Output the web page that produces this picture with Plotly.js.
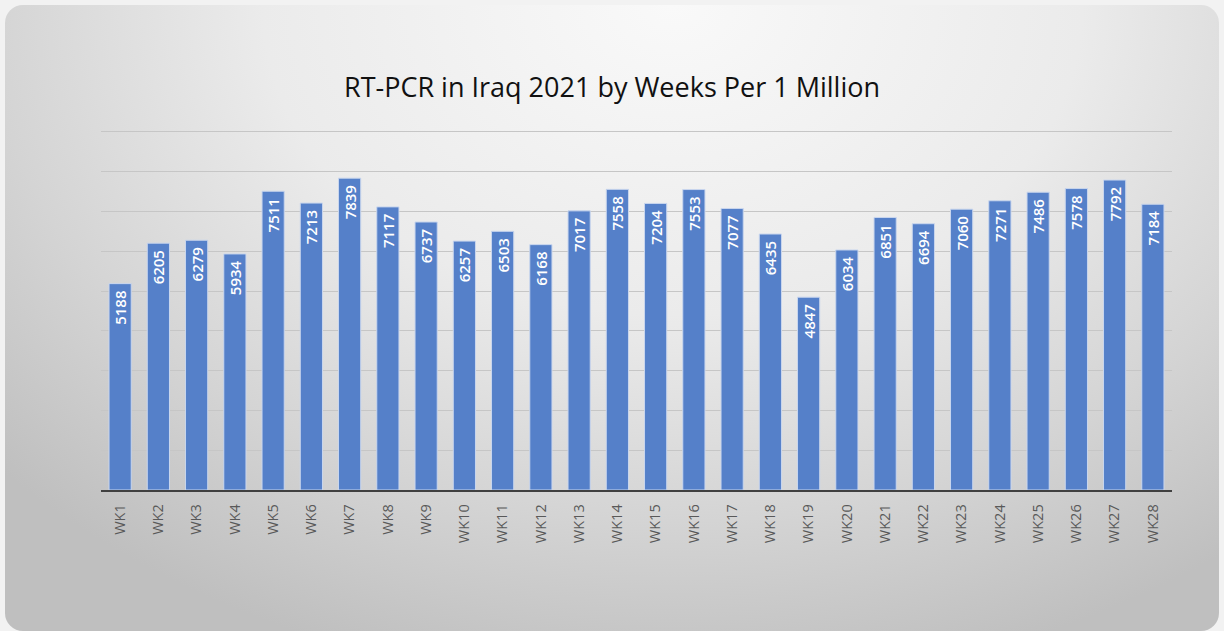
<!DOCTYPE html>
<html>
<head>
<meta charset="utf-8">
<script src="https://cdn.plot.ly/plotly-3.0.1.min.js"></script>
<style>
  html, body { margin:0; padding:0; width:1224px; height:631px; background:#f2f2f2; overflow:hidden; }
  #panel { position:absolute; left:5px; top:5px; width:1214px; height:626px; border-radius:18px;
    background: radial-gradient(ellipse 75% 110% at 55% 0%, #f9f9f9 0%, #ebebeb 45%, #d4d4d4 75%, #bfbfbf 100%); }
  #chart { position:absolute; left:0; top:0; width:1224px; height:631px; }
</style>
</head>
<body>
<div id="panel"></div>
<div id="chart"></div>
<script>
const weeks = ["WK1","WK2","WK3","WK4","WK5","WK6","WK7","WK8","WK9","WK10","WK11","WK12","WK13","WK14","WK15","WK16","WK17","WK18","WK19","WK20","WK21","WK22","WK23","WK24","WK25","WK26","WK27","WK28"];
const tests = [5188,6205,6279,5934,7511,7213,7839,7117,6737,6257,6503,6168,7017,7558,7204,7553,7077,6435,4847,6034,6851,6694,7060,7271,7486,7578,7792,7184];
const chartTitle = "RT-PCR in Iraq 2021 by Weeks Per 1 Million";

const trace = {
  type: 'bar',
  x: weeks,
  y: tests,
  marker: { color: '#5580c9', line: { color: '#c9d6ee', width: 1 } },
  text: tests.map(v => String(v) + '\u00a0'),
  textposition: 'inside',
  insidetextanchor: 'end',
  textangle: -90,
  constraintext: 'none',
  textfont: { color: '#ffffff', size: 15, family: 'Open Sans, sans-serif', weight: 600 },
  hoverinfo: 'x+y'
};

const layout = {
  width: 1224, height: 631,
  paper_bgcolor: 'rgba(0,0,0,0)',
  plot_bgcolor: 'rgba(0,0,0,0)',
  margin: { l: 101, r: 52, t: 130, b: 141 },
  bargap: 0.42,
  showlegend: false,
  title: { text: chartTitle, x: 0.5, xanchor: 'center', y: 0.862, yanchor: 'middle',
    font: { family: 'Open Sans, sans-serif', size: 27, color: '#111111' } },
  xaxis: {
    type: 'category',
    tickangle: -90,
    tickfont: { family: 'Open Sans, sans-serif', size: 14.5, color: '#595959' },
    showline: true, linecolor: '#404040', linewidth: 1.5,
    ticks: 'outside', ticklen: 7, tickcolor: 'rgba(0,0,0,0)',
    showgrid: false, fixedrange: true
  },
  yaxis: {
    range: [0, 9050], dtick: 1000, tick0: 0,
    showticklabels: false, ticks: '',
    showgrid: true, gridcolor: '#c6c6c6', gridwidth: 1,
    zeroline: false, showline: false, fixedrange: true
  }
};

Plotly.newPlot('chart', [trace], layout, { displayModeBar: false, staticPlot: true });
</script>
</body>
</html>
